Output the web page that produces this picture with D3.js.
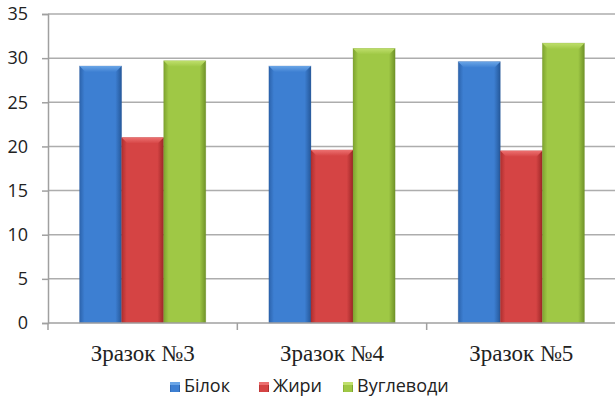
<!DOCTYPE html>
<html>
<head>
<meta charset="utf-8">
<script src="https://cdn.jsdelivr.net/npm/d3@7"></script>
<style>
  html, body { margin: 0; padding: 0; background: #fff; }
  svg { display: block; }
</style>
</head>
<body>
<svg id="chart" width="615" height="399"></svg>
<script>
// Chart data
const categories = ["Зразок №3", "Зразок №4", "Зразок №5"];
const seriesNames = ["Білок", "Жири", "Вуглеводи"];
const bilok = [29.1, 29.1, 29.6];
const zhyry = [21.0, 19.6, 19.5];
const vuhlevody = [29.7, 31.1, 31.7];
const yTicks = [0, 5, 10, 15, 20, 25, 30, 35];

const seriesValues = [bilok, zhyry, vuhlevody];
const palette = [
  { mid: "#3d7fd2", edge: "#2c63ac", top: "#6aa5e6", dark: "#25589a" },
  { mid: "#d54444", edge: "#ae2f2f", top: "#ec7070", dark: "#9c2727" },
  { mid: "#9fc845", edge: "#7ea32f", top: "#bfdf6c", dark: "#6f9228" }
];

const svg = d3.select("#chart");
const m = { left: 48, right: 616, top: 14, bottom: 323 };

const x = d3.scaleBand().domain(categories).range([m.left, m.right]).paddingInner(1/3).paddingOuter(1/6);
const xs = d3.scaleBand().domain(seriesNames).range([0, x.bandwidth()]);
const y = d3.scaleLinear().domain([0, 35]).range([m.bottom, m.top]);

// Gradients for bar bodies and bevelled tops
const defs = svg.append("defs");
palette.forEach((p, i) => {
  const g = defs.append("linearGradient").attr("id", "g" + i)
    .attr("x1", "0").attr("x2", "1").attr("y1", "0").attr("y2", "0");
  g.append("stop").attr("offset", "0").attr("stop-color", p.edge);
  g.append("stop").attr("offset", "0.12").attr("stop-color", p.mid);
  g.append("stop").attr("offset", "0.85").attr("stop-color", p.mid);
  g.append("stop").attr("offset", "1").attr("stop-color", p.dark);
  const t = defs.append("linearGradient").attr("id", "t" + i)
    .attr("x1", "0").attr("x2", "0").attr("y1", "0").attr("y2", "1");
  t.append("stop").attr("offset", "0").attr("stop-color", p.top);
  t.append("stop").attr("offset", "1").attr("stop-color", p.mid);
});

// Horizontal gridlines
svg.append("g")
  .selectAll("line").data(yTicks.filter(d => d > 0)).join("line")
  .attr("x1", m.left).attr("x2", m.right)
  .attr("y1", d => y(d)).attr("y2", d => y(d))
  .attr("stroke", "#adadad").attr("stroke-width", 1.5);

// Y axis
const yAxis = svg.append("g").attr("transform", `translate(${m.left},0)`)
  .call(d3.axisLeft(y).tickValues(yTicks).tickSize(6).tickPadding(14));
yAxis.select(".domain").attr("stroke", "#a0a0a0").attr("stroke-width", 1.5);
yAxis.selectAll(".tick line").attr("stroke", "#a0a0a0").attr("stroke-width", 1.5);
yAxis.selectAll("text").attr("font-family", "'Open Sans', 'Noto Sans', sans-serif")
  .attr("font-size", 18).attr("fill", "#222");

// Bars
const bevel = 6;
const groups = svg.append("g").selectAll("g").data(categories).join("g")
  .attr("transform", d => `translate(${x(d)},0)`);
seriesNames.forEach((s, si) => {
  const bw = xs.bandwidth();
  const bx = xs(s);
  groups.append("rect")
    .attr("x", bx).attr("width", bw)
    .attr("y", (d, ci) => y(seriesValues[si][ci]))
    .attr("height", (d, ci) => y(0) - y(seriesValues[si][ci]))
    .attr("fill", `url(#g${si})`)
    .attr("stroke", palette[si].dark).attr("stroke-opacity", 0.35).attr("stroke-width", 0.8);
  groups.append("path")
    .attr("d", (d, ci) => {
      const t = y(seriesValues[si][ci]);
      return `M${bx},${t}L${bx + bw},${t}L${bx + bw - bevel},${t + bevel}L${bx + bevel},${t + bevel}Z`;
    })
    .attr("fill", `url(#t${si})`);
});

// X axis
const xAxis = svg.append("g").attr("transform", `translate(0,${m.bottom})`);
xAxis.append("line").attr("x1", m.left).attr("x2", m.right)
  .attr("stroke", "#a0a0a0").attr("stroke-width", 1.5);
const step = x.step();
xAxis.selectAll(".xt").data(d3.range(categories.length + 1)).join("line")
  .attr("class", "xt")
  .attr("x1", i => m.left + i * step).attr("x2", i => m.left + i * step)
  .attr("y1", 0).attr("y2", 7)
  .attr("stroke", "#a0a0a0").attr("stroke-width", 1.5);
xAxis.selectAll("text").data(categories).join("text")
  .attr("x", d => x(d) + x.bandwidth() / 2).attr("y", 38)
  .attr("text-anchor", "middle")
  .attr("font-family", "'Liberation Serif', 'Times New Roman', serif")
  .attr("font-size", 23).attr("fill", "#222")
  .text(d => d);

// Legend
const legendX = [170, 259, 343];
const legend = svg.append("g").selectAll("g").data(seriesNames).join("g")
  .attr("transform", (d, i) => `translate(${legendX[i]},382)`);
legend.append("rect").attr("width", 10).attr("height", 10)
  .attr("fill", (d, i) => `url(#g${i})`);
legend.append("rect").attr("width", 10).attr("height", 3)
  .attr("fill", (d, i) => palette[i].top);
legend.append("text").attr("x", 14).attr("y", 10)
  .attr("font-family", "'Open Sans', 'Noto Sans', sans-serif")
  .attr("font-size", 18).attr("fill", "#222")
  .text(d => d);
</script>
</body>
</html>
